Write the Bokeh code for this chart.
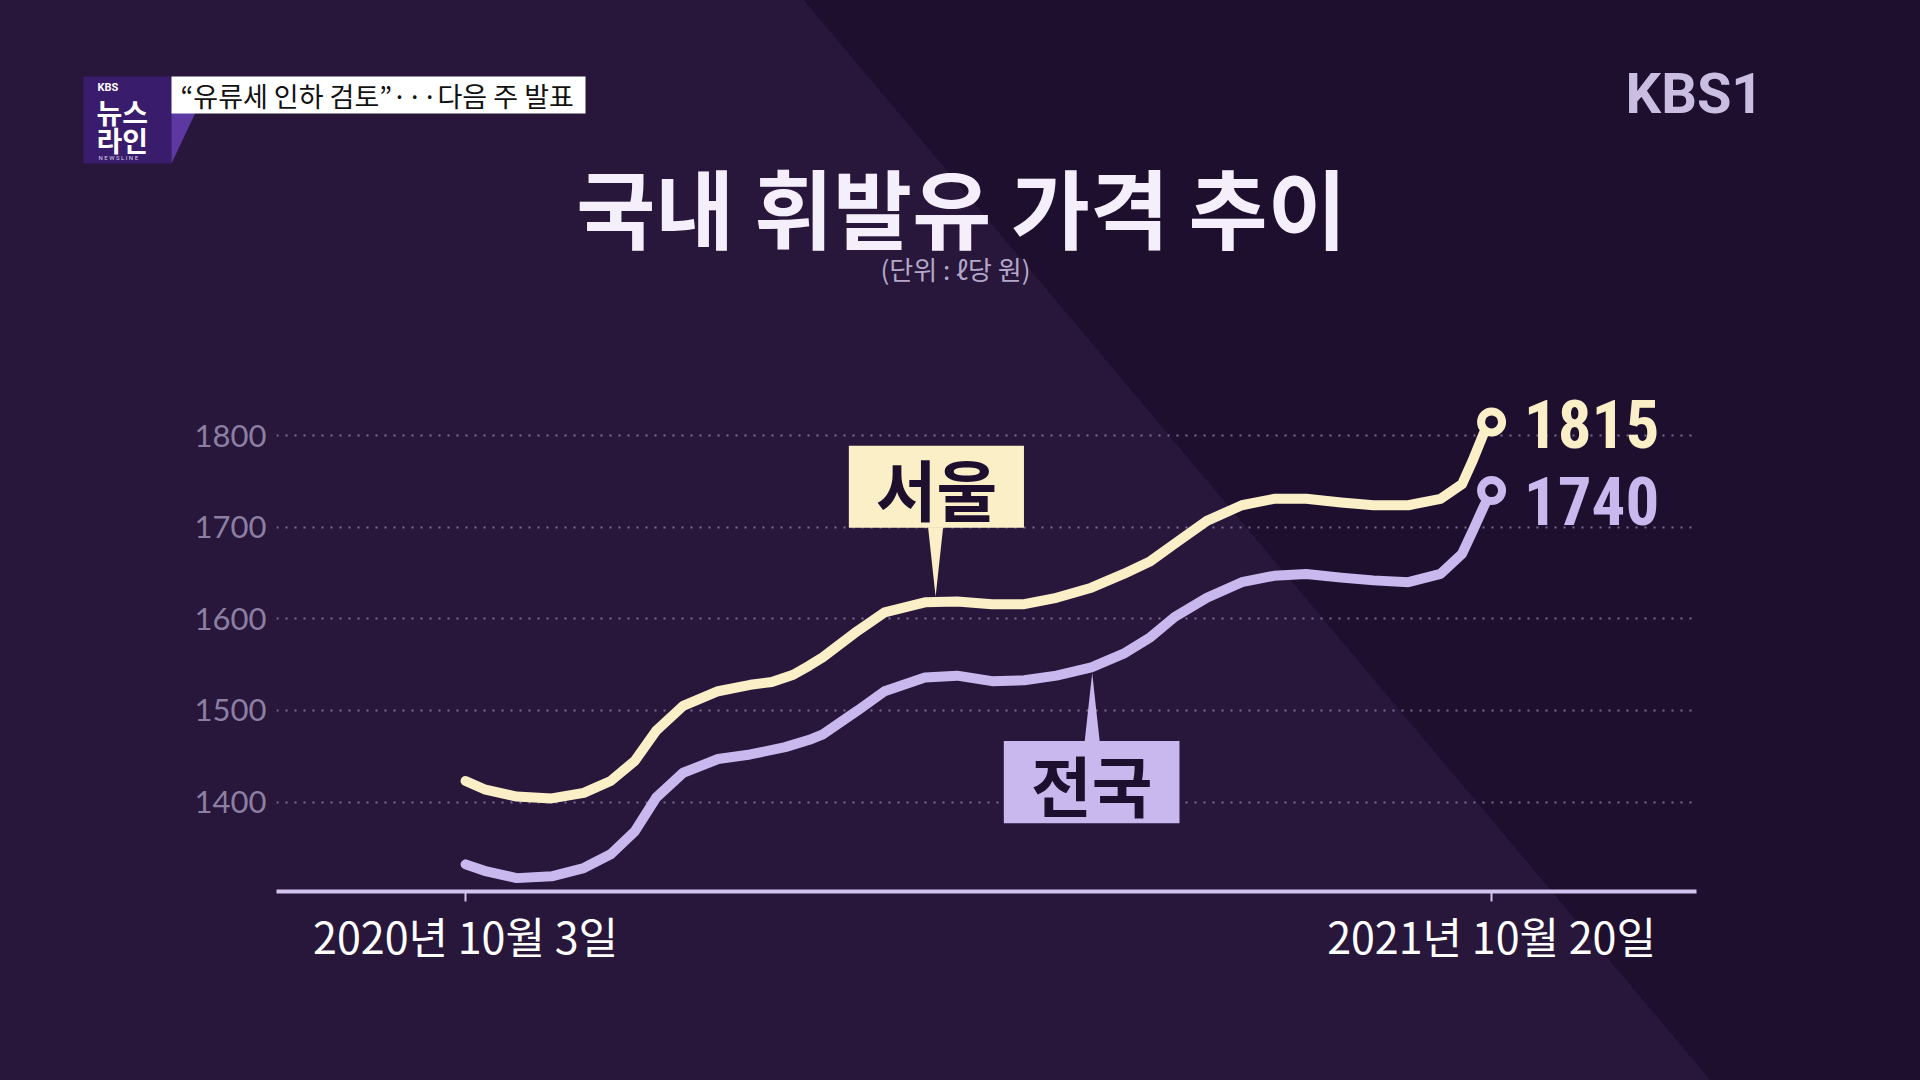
import pandas as pd
from bokeh.plotting import figure
from bokeh.layouts import column
from bokeh.models import FixedTicker, Label, PolyAnnotation, BoxAnnotation, Range1d, ColumnDataSource
from bokeh.embed import file_html
from bokeh.resources import INLINE

# ---------------- data ----------------
start_date = "2020-10-03"
end_date = "2021-10-20"
start_label = "2020년 10월 3일"
end_label = "2021년 10월 20일"

# days after start_date
seoul_days = [0, 7, 19, 32, 44, 54, 63, 71, 81, 94, 106, 114, 122, 128, 133, 146, 156, 171, 183, 196, 208,
              220, 233, 245, 255, 264, 276, 289, 301, 313, 326, 338, 351, 363, 371, 375, 379, 382]
seoul_price = [1423, 1414, 1406, 1404, 1410, 1423, 1445, 1478, 1505, 1521, 1528, 1531, 1539, 1549, 1558, 1587, 1607, 1618, 1619, 1616, 1616,
               1623, 1634, 1649, 1663, 1682, 1707, 1724, 1731, 1731, 1727, 1724, 1724, 1731, 1747, 1773, 1802, 1815]

nation_days = [0, 7, 19, 32, 44, 54, 63, 71, 81, 94, 106, 119, 128, 133, 146, 156, 171, 183, 196, 208,
               220, 233, 245, 255, 264, 276, 289, 301, 313, 326, 338, 351, 363, 371, 375, 379, 382]
nation_price = [1332, 1325, 1317, 1319, 1328, 1343, 1368, 1405, 1432, 1447, 1452, 1460, 1468, 1474, 1500, 1521, 1536, 1538, 1532, 1533,
                1538, 1547, 1562, 1580, 1602, 1623, 1640, 1647, 1649, 1645, 1642, 1640, 1649, 1671, 1696, 1722, 1740]

y_ticks = [1400, 1500, 1600, 1700, 1800]
series_names = ["서울", "전국"]

title_text = "국내 휘발유 가격 추이"
unit_text = "(단위 : ℓ당 원)"
headline_text = "“유류세 인하 검토”···다음 주 발표"

# ---------------- style ----------------
BG = "#1f0f2e"
BG_LIGHT = "#28173b"
CREAM = "#fbefc8"
LAV = "#c8b8ee"
FONT_KR = "Noto Sans CJK KR"
NUM_FONT = "'Liberation Sans Narrow', 'Roboto Condensed', Roboto"

W = 1920
HDR_H = 300
MAIN_H = 780
FL, FR, FB = 276, 1696, 591  # main frame: left, right, bottom (in main figure px)

total_days = (pd.Timestamp(end_date) - pd.Timestamp(start_date)).days

# ---------------- header ----------------
hdr = figure(width=W, height=HDR_H, output_backend="svg", toolbar_location=None,
             x_range=Range1d(0, W), y_range=Range1d(HDR_H, 0),
             x_axis_location=None, y_axis_location=None,
             min_border_left=0, min_border_right=0, min_border_top=0, min_border_bottom=0,
             background_fill_color=None, border_fill_color=None, outline_line_color=None)
hdr.frame_align = False
hdr.grid.visible = False

# logo block
hdr.add_layout(BoxAnnotation(left=83, right=171, top=76, bottom=163,
                             fill_color="#3a1c6c", fill_alpha=1.0, line_color=None))
hdr.add_layout(PolyAnnotation(xs=[171, 196, 171], ys=[110, 110, 163],
                              fill_color="#5d38a2", fill_alpha=1.0, line_color=None))
hdr.add_layout(Label(x=97, y=87, text="KBS", text_font="Roboto", text_font_style="bold",
                     text_font_size="11px", text_color="#ffffff", text_baseline="middle"))
hdr.add_layout(Label(x=96, y=111, text="뉴스", text_font=FONT_KR, text_font_style="bold",
                     text_font_size="28px", text_color="#ffffff", text_baseline="middle"))
hdr.add_layout(Label(x=96, y=139, text="라인", text_font=FONT_KR, text_font_style="bold",
                     text_font_size="28px", text_color="#ffffff", text_baseline="middle"))
hdr.add_layout(Label(x=98, y=157, text="N E W S   L I N E", text_font="Roboto",
                     text_font_size="6px", text_color="#d8d0ea", text_baseline="middle"))

# headline box
hdr.add_layout(BoxAnnotation(left=171, right=585, top=76, bottom=113,
                             fill_color="#ffffff", fill_alpha=1.0, line_color=None))
hdr.add_layout(Label(x=180, y=95, text=headline_text, text_font=FONT_KR, text_font_size="27px",
                     text_color="#111111", text_baseline="middle"))

# channel logo
hdr.add_layout(Label(x=1763, y=93, text="KBS1", text_font="Roboto", text_font_style="bold",
                     text_font_size="56px", text_color="#c9bde2", text_align="right",
                     text_baseline="middle"))

# title and unit
hdr.add_layout(Label(x=961, y=205, text=title_text, text_font=FONT_KR, text_font_style="bold",
                     text_font_size="86px", text_color="#f5effb", text_align="center",
                     text_baseline="middle"))
hdr.add_layout(Label(x=955, y=268, text=unit_text, text_font=FONT_KR, text_font_size="26px",
                     text_color="#b3a8c9", text_align="center", text_baseline="middle"))

# ---------------- main chart ----------------
p = figure(width=W, height=MAIN_H, output_backend="svg", toolbar_location=None,
           x_range=Range1d(-70.4, 458.3), y_range=Range1d(1302.4, 1947.5),
           min_border_left=FL, min_border_right=W - FR,
           min_border_top=0, min_border_bottom=MAIN_H - FB,
           background_fill_color=None, border_fill_color=None, outline_line_color=None)
p.frame_align = False

# grid
p.xgrid.grid_line_color = None
p.ygrid.ticker = FixedTicker(ticks=y_ticks)
p.ygrid.grid_line_color = "#9a8ab4"
p.ygrid.grid_line_alpha = 0.75
p.ygrid.grid_line_width = 2
p.ygrid.grid_line_dash = "2 7"

# y axis
p.yaxis.ticker = FixedTicker(ticks=y_ticks)
p.yaxis.axis_line_color = None
p.yaxis.major_tick_line_color = None
p.yaxis.minor_tick_line_color = None
p.yaxis.major_label_text_font = "Lato"
p.yaxis.major_label_text_font_size = "31px"
p.yaxis.major_label_text_color = "#8c7fa3"
p.yaxis.major_label_standoff = 4

# x axis
p.xaxis.ticker = FixedTicker(ticks=[0, total_days])
p.xaxis.major_label_overrides = {0: start_label, total_days: end_label}
p.xaxis.axis_line_color = "#d2c4f0"
p.xaxis.axis_line_width = 4
p.xaxis.major_tick_line_color = "#d2c4f0"
p.xaxis.major_tick_line_width = 2
p.xaxis.major_tick_in = 0
p.xaxis.major_tick_out = 10
p.xaxis.minor_tick_line_color = None
p.xaxis.major_label_text_font = FONT_KR
p.xaxis.major_label_text_font_size = "43px"
p.xaxis.major_label_text_color = "#ffffff"
p.xaxis.major_label_standoff = 2

# lines
src_s = ColumnDataSource(dict(x=seoul_days, y=seoul_price))
src_n = ColumnDataSource(dict(x=nation_days, y=nation_price))
p.line("x", "y", source=src_s, line_color=CREAM, line_width=10, line_cap="round", line_join="round")
p.line("x", "y", source=src_n, line_color=LAV, line_width=10, line_cap="round", line_join="round")

# end markers
p.scatter([seoul_days[-1]], [seoul_price[-1]], size=21, fill_color=BG, line_color=CREAM, line_width=8)
p.scatter([nation_days[-1]], [nation_price[-1]], size=21, fill_color=BG, line_color=LAV, line_width=8)

# end value labels
p.add_layout(Label(x=seoul_days[-1] + 12, y=seoul_price[-1] - 2, text=str(seoul_price[-1]),
                   text_font=NUM_FONT, text_font_style="bold", text_font_size="67px",
                   text_color=CREAM, text_baseline="middle", text_align="left"))
p.add_layout(Label(x=nation_days[-1] + 12, y=nation_price[-1] - 11, text=str(nation_price[-1]),
                   text_font=NUM_FONT, text_font_style="bold", text_font_size="67px",
                   text_color=LAV, text_baseline="middle", text_align="left"))

# callout: 서울
tip_s, tip_s_val = 175.0, 1624
p.patch([tip_s - 2.8, tip_s + 2.8, tip_s], [1700, 1700, tip_s_val], fill_color=CREAM, line_color=None)
p.add_layout(BoxAnnotation(left=142.7, right=207.9, bottom=1699.5, top=1789,
                           fill_color=CREAM, fill_alpha=1.0, line_color=None))
p.add_layout(Label(x=175.3, y=1744, text=series_names[0], text_font=FONT_KR,
                   text_font_style="bold", text_font_size="66px", text_color=BG,
                   text_align="center", text_baseline="middle"))

# callout: 전국
tip_n, tip_n_val = 233.3, 1541
p.patch([tip_n - 2.8, tip_n + 2.8, tip_n], [1466, 1466, tip_n_val], fill_color=LAV, line_color=None)
p.add_layout(BoxAnnotation(left=200.4, right=265.8, bottom=1377, top=1466.7,
                           fill_color=LAV, fill_alpha=1.0, line_color=None))
p.add_layout(Label(x=233.1, y=1421, text=series_names[1], text_font=FONT_KR,
                   text_font_style="bold", text_font_size="66px", text_color=BG,
                   text_align="center", text_baseline="middle"))

layout = column(hdr, p, spacing=0)

page_style = (
    "<style>html,body{margin:0;padding:0;width:1920px;height:1080px;}"
    "html{background:linear-gradient(50deg, %s 0%%, %s 60.5%%, %s 60.5%%, %s 100%%) no-repeat;}"
    "body{background:transparent;}</style>" % (BG_LIGHT, BG_LIGHT, BG, BG)
)
html = file_html(layout, INLINE)
html = html.replace("</head>", page_style + "</head>", 1)
open("out.html", "w").write(html)
